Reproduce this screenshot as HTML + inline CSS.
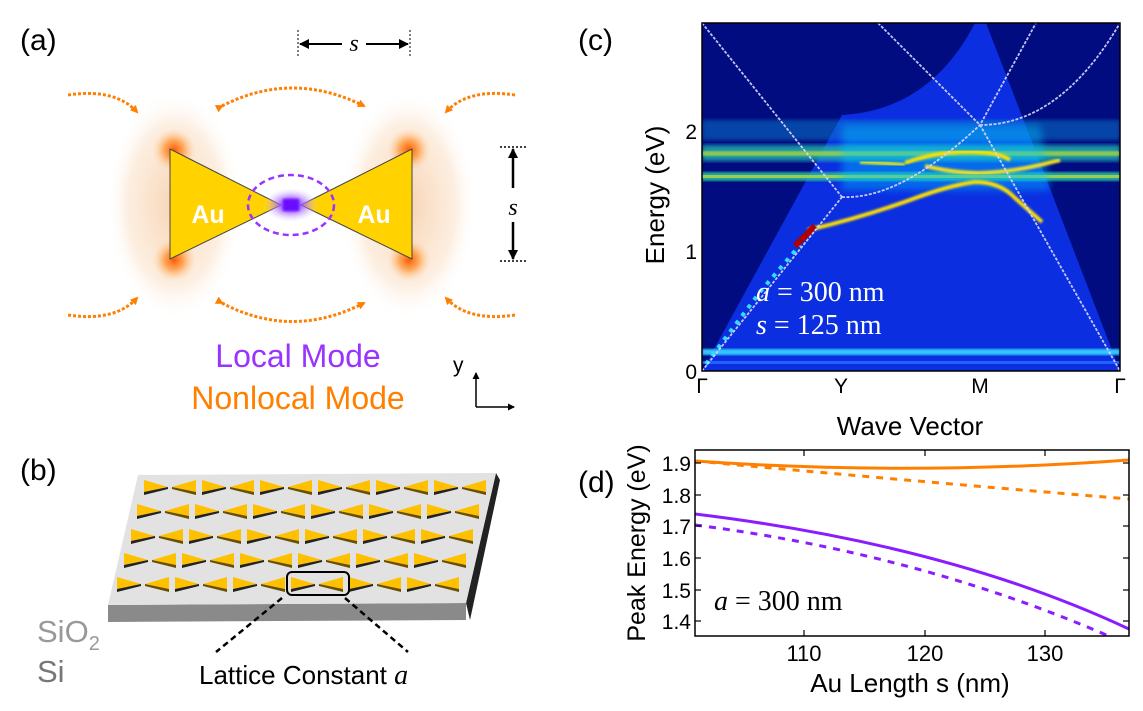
<!DOCTYPE html>
<html><head><meta charset="utf-8"><style>
html,body{margin:0;padding:0;background:#fff;}
svg{display:block;font-family:"Liberation Sans",sans-serif;}
</style></head><body>
<svg width="1143" height="711" viewBox="0 0 1143 711" xmlns="http://www.w3.org/2000/svg">
<defs>
 <radialGradient id="haze" cx="50%" cy="50%" r="50%">
  <stop offset="0" stop-color="#f5c9a0" stop-opacity="0.8"/>
  <stop offset="0.7" stop-color="#fbe3cc" stop-opacity="0.6"/>
  <stop offset="1" stop-color="#fff" stop-opacity="0"/>
 </radialGradient>
 <radialGradient id="hot" cx="50%" cy="50%" r="50%">
  <stop offset="0" stop-color="#ff5a00"/>
  <stop offset="0.45" stop-color="#ff9a40" stop-opacity="0.8"/>
  <stop offset="1" stop-color="#ffd9b0" stop-opacity="0"/>
 </radialGradient>
 <radialGradient id="purp" cx="50%" cy="50%" r="50%">
  <stop offset="0" stop-color="#6a00ff"/>
  <stop offset="0.4" stop-color="#9a55ff" stop-opacity="0.8"/>
  <stop offset="1" stop-color="#e6d5ff" stop-opacity="0"/>
 </radialGradient>
 <marker id="oa" markerWidth="8" markerHeight="8" refX="6" refY="4" orient="auto" markerUnits="userSpaceOnUse"><path d="M0,0 L8,4 L0,8 z" fill="#ff7f00"/></marker>
 <marker id="ka" markerWidth="10" markerHeight="10" refX="9" refY="5" orient="auto" markerUnits="userSpaceOnUse"><path d="M0,0 L10,5 L0,10 z" fill="#000"/></marker>
 <marker id="ks" markerWidth="7" markerHeight="7" refX="6" refY="3.5" orient="auto" markerUnits="userSpaceOnUse"><path d="M0,0 L7,3.5 L0,7 z" fill="#000"/></marker>
 <filter id="b2"><feGaussianBlur stdDeviation="2"/></filter>
 <filter id="b4"><feGaussianBlur stdDeviation="4"/></filter>
 <filter id="b1"><feGaussianBlur stdDeviation="1"/></filter>
 <clipPath id="cc"><rect x="702" y="23" width="418" height="348"/></clipPath>
 <clipPath id="dc"><rect x="695" y="450" width="434" height="186"/></clipPath>
 <g id="p"><polygon points="0,-7 24,0 0,5" fill="#ffc000"/><polygon points="0,5 24,0 24,2 0,8" fill="#222"/><polygon points="52,-7 28,0 52,5" fill="#ffc000"/><polygon points="28,0 52,5 52,8 28,2" fill="#6b4f00"/></g>
</defs>

<!-- Panel a -->
<text x="20" y="50" font-size="30">(a)</text>
<line x1="298" y1="30" x2="298" y2="58" stroke="#000" stroke-dasharray="2,2"/>
<line x1="410" y1="30" x2="410" y2="58" stroke="#000" stroke-dasharray="2,2"/>
<line x1="342" y1="44" x2="300" y2="44" stroke="#000" stroke-width="2" marker-end="url(#ka)"/>
<line x1="366" y1="44" x2="408" y2="44" stroke="#000" stroke-width="2" marker-end="url(#ka)"/>
<text x="354" y="51" font-size="24" font-style="italic" font-family="Liberation Serif,serif" text-anchor="middle">s</text>

<ellipse cx="175" cy="205" rx="68" ry="115" fill="url(#haze)"/>
<ellipse cx="408" cy="205" rx="68" ry="115" fill="url(#haze)"/>
<circle cx="174" cy="150" r="22" fill="url(#hot)"/>
<circle cx="174" cy="260" r="22" fill="url(#hot)"/>
<circle cx="409" cy="150" r="22" fill="url(#hot)"/>
<circle cx="409" cy="260" r="22" fill="url(#hot)"/>
<polygon points="170,149 281,205 170,259" fill="#ffd200" stroke="#444" stroke-width="1" stroke-linejoin="round"/>
<polygon points="412,149 301,205 412,259" fill="#ffd200" stroke="#444" stroke-width="1" stroke-linejoin="round"/>
<ellipse cx="291" cy="205" rx="28" ry="17" fill="url(#purp)"/>
<rect x="283" y="199" width="16" height="12" fill="#6a10ff" filter="url(#b1)"/>
<ellipse cx="291" cy="205" rx="43" ry="30" fill="none" stroke="#9933ff" stroke-width="2.5" stroke-dasharray="6,4"/>
<text x="208" y="223" font-size="25" font-weight="bold" fill="#fff" text-anchor="middle">Au</text>
<text x="374" y="223" font-size="25" font-weight="bold" fill="#fff" text-anchor="middle">Au</text>

<g fill="none" stroke="#ff7f00" stroke-width="3" stroke-dasharray="3,2">
 <path d="M68,95 Q115,88 137,112" marker-end="url(#oa)"/>
 <path d="M515,95 Q468,88 446,112" marker-end="url(#oa)"/>
 <path d="M68,315 Q115,322 137,298" marker-end="url(#oa)"/>
 <path d="M515,315 Q468,322 446,298" marker-end="url(#oa)"/>
 <path d="M222,106 Q292,70 364,106" marker-end="url(#oa)" marker-start="url(#oa)"/>
 <path d="M222,303 Q292,340 364,303" marker-end="url(#oa)" marker-start="url(#oa)"/>
</g>

<line x1="500" y1="147" x2="528" y2="147" stroke="#000" stroke-dasharray="2,2" stroke-width="1.5"/>
<line x1="500" y1="261" x2="528" y2="261" stroke="#000" stroke-dasharray="2,2" stroke-width="1.5"/>
<line x1="513" y1="188" x2="513" y2="149" stroke="#000" stroke-width="2.5" marker-end="url(#ka)"/>
<line x1="513" y1="222" x2="513" y2="259" stroke="#000" stroke-width="2.5" marker-end="url(#ka)"/>
<text x="513" y="215" font-size="24" font-style="italic" font-family="Liberation Serif,serif" text-anchor="middle">s</text>

<text x="298" y="367" font-size="32" fill="#9933ff" text-anchor="middle">Local Mode</text>
<text x="298" y="409" font-size="32" fill="#ff7f00" text-anchor="middle">Nonlocal Mode</text>
<text x="453" y="372" font-size="21">y</text>
<line x1="476" y1="407" x2="476" y2="373" stroke="#000" stroke-width="1.5" marker-end="url(#ks)"/>
<line x1="476" y1="407" x2="514" y2="407" stroke="#000" stroke-width="1.5" marker-end="url(#ks)"/>

<!-- Panel b -->
<text x="20" y="480" font-size="30">(b)</text>
<polygon points="496,473 500,480 470,620 466,603" fill="#222"/>
<polygon points="108,605 466,603 466,620 108,622" fill="#8a8a8a"/>
<polygon points="138,475 496,473 466,603 108,605" fill="#e2e2e2"/>
<g transform="translate(144,487)"><use href="#p"/><use href="#p" x="58"/><use href="#p" x="116"/><use href="#p" x="174"/><use href="#p" x="232"/><use href="#p" x="290"/></g>
<g transform="translate(137,511)"><use href="#p"/><use href="#p" x="58"/><use href="#p" x="116"/><use href="#p" x="174"/><use href="#p" x="232"/><use href="#p" x="290"/></g>
<g transform="translate(131,536)"><use href="#p"/><use href="#p" x="58"/><use href="#p" x="116"/><use href="#p" x="174"/><use href="#p" x="232"/><use href="#p" x="290"/></g>
<g transform="translate(124,560)"><use href="#p"/><use href="#p" x="58"/><use href="#p" x="116"/><use href="#p" x="174"/><use href="#p" x="232"/><use href="#p" x="290"/></g>
<g transform="translate(117,584)"><use href="#p"/><use href="#p" x="58"/><use href="#p" x="116"/><use href="#p" x="174"/><use href="#p" x="232"/><use href="#p" x="290"/></g>
<rect x="287" y="572" width="62" height="23" rx="5" fill="none" stroke="#000" stroke-width="2"/>
<line x1="282" y1="598" x2="216" y2="652" stroke="#000" stroke-width="2.5" stroke-dasharray="6,4"/>
<line x1="345" y1="598" x2="408" y2="652" stroke="#000" stroke-width="2.5" stroke-dasharray="6,4"/>
<text x="199" y="684" font-size="26">Lattice Constant <tspan font-family="Liberation Serif,serif" font-style="italic" font-size="28">a</tspan></text>
<text x="37" y="642" font-size="31" fill="#999">SiO<tspan font-size="20" dy="8">2</tspan></text>
<text x="37" y="682" font-size="31" fill="#777">Si</text>

<!-- Panel c -->
<text x="578" y="50" font-size="30">(c)</text>
<g clip-path="url(#cc)">
 <rect x="702" y="23" width="418" height="348" fill="#000c80"/>
 <path d="M702,371 L842,115 Q930,110 975,23 L986,23 L1046,178 L1120,371 Z" fill="#0a2ee0"/>
 <rect x="702" y="120" width="418" height="20" fill="#0b7fd0" opacity="0.5" filter="url(#b2)"/>
 <rect x="702" y="145" width="418" height="16" fill="#20b8b0" opacity="0.8" filter="url(#b2)"/>
 <rect x="702" y="151" width="418" height="5" fill="#a8d840" opacity="0.8" filter="url(#b1)"/>
 <rect x="702" y="172" width="418" height="9" fill="#28c0a0" opacity="0.85" filter="url(#b1)"/>
 <rect x="702" y="175" width="418" height="3" fill="#b8d840" opacity="0.8"/>
 <path d="M842,125 L1040,125 L1050,190 L842,190 Z" fill="#00c8ff" opacity="0.4" filter="url(#b4)"/>
 <rect x="702" y="349" width="418" height="6" fill="#30c8ff" filter="url(#b1)"/>
 <rect x="702" y="361" width="418" height="3" fill="#1f60ff"/>
 <g fill="none">
  <path d="M706,364 L760,292 L800,245" stroke="#30e0ff" stroke-width="4" stroke-dasharray="4,6"/>
  <path d="M808,230 Q860,218 910,200 Q950,185 975,182 Q1000,182 1015,198 L1042,222" stroke="#ffe000" stroke-width="4" filter="url(#b1)"/>
  <path d="M795,246 L815,226" stroke="#b00000" stroke-width="6"/>
  <path d="M905,163 Q940,150 978,152 Q1000,153 1010,160" stroke="#ffe000" stroke-width="4" filter="url(#b1)"/>
  <path d="M925,166 Q955,173 980,173 Q1010,172 1040,165 L1060,160" stroke="#f0e020" stroke-width="4" filter="url(#b1)"/>
  <path d="M860,162 Q885,163 905,165" stroke="#d0e030" stroke-width="4" filter="url(#b1)"/>
 </g>
 <g fill="none" stroke="#d8d8ff" stroke-width="1.8" stroke-dasharray="3,1.5" opacity="0.9">
  <path d="M702,23 L842,197"/>
  <path d="M702,371 L842,197"/>
  <path d="M842,197 Q900,200 980,125 L1036,23"/>
  <path d="M878,23 L980,125 L1120,371"/>
  <path d="M980,125 Q1060,125 1120,23"/>
 </g>
</g>
<rect x="702" y="23" width="418" height="348" fill="none" stroke="#000" stroke-width="1.5"/>
<text x="756" y="301" font-size="28" fill="#fff" font-family="Liberation Serif,serif"><tspan font-style="italic">a</tspan> = 300 nm</text>
<text x="756" y="334" font-size="28" fill="#fff" font-family="Liberation Serif,serif"><tspan font-style="italic">s</tspan> = 125 nm</text>
<g font-size="21" text-anchor="end"><text x="697" y="379">0</text><text x="697" y="259">1</text><text x="697" y="139">2</text></g>
<g font-size="21" text-anchor="middle"><text x="702" y="393">Γ</text><text x="841" y="393">Y</text><text x="980" y="393">M</text><text x="1120" y="393">Γ</text></g>
<text x="910" y="435" font-size="26" text-anchor="middle">Wave Vector</text>
<text transform="translate(664,195) rotate(-90)" font-size="26" text-anchor="middle">Energy (eV)</text>

<!-- Panel d -->
<text x="578" y="492" font-size="30">(d)</text>
<g clip-path="url(#dc)" fill="none" stroke-width="3">
 <path d="M695,461 Q910,476 1129,460" stroke="#ff8000"/>
 <path d="M695,461 Q900,480 1129,499" stroke="#ff8000" stroke-dasharray="7,7"/>
 <path d="M695,514 Q950,545 1129,629" stroke="#8a1cff"/>
 <path d="M695,525 Q930,555 1129,645" stroke="#8a1cff" stroke-dasharray="7,7"/>
</g>
<rect x="695" y="450" width="434" height="186" fill="none" stroke="#000" stroke-width="1.5"/>
<g stroke="#000" stroke-width="1.2">
 <line x1="695" y1="463" x2="701" y2="463"/><line x1="695" y1="495" x2="701" y2="495"/><line x1="695" y1="526" x2="701" y2="526"/><line x1="695" y1="558" x2="701" y2="558"/><line x1="695" y1="590" x2="701" y2="590"/><line x1="695" y1="621" x2="701" y2="621"/>
 <line x1="1123" y1="463" x2="1129" y2="463"/><line x1="1123" y1="495" x2="1129" y2="495"/><line x1="1123" y1="526" x2="1129" y2="526"/><line x1="1123" y1="558" x2="1129" y2="558"/><line x1="1123" y1="590" x2="1129" y2="590"/><line x1="1123" y1="621" x2="1129" y2="621"/>
 <line x1="804" y1="636" x2="804" y2="630"/><line x1="925" y1="636" x2="925" y2="630"/><line x1="1045" y1="636" x2="1045" y2="630"/>
 <line x1="804" y1="450" x2="804" y2="456"/><line x1="925" y1="450" x2="925" y2="456"/><line x1="1045" y1="450" x2="1045" y2="456"/>
</g>
<g font-size="21" text-anchor="end"><text x="691" y="471">1.9</text><text x="691" y="503">1.8</text><text x="691" y="534">1.7</text><text x="691" y="566">1.6</text><text x="691" y="598">1.5</text><text x="691" y="629">1.4</text></g>
<g font-size="22" text-anchor="middle"><text x="804" y="661">110</text><text x="925" y="661">120</text><text x="1045" y="661">130</text></g>
<text x="910" y="692" font-size="26" text-anchor="middle">Au Length s (nm)</text>
<text transform="translate(645,543) rotate(-90)" font-size="25" text-anchor="middle">Peak Energy (eV)</text>
<text x="714" y="610" font-size="28" font-family="Liberation Serif,serif"><tspan font-style="italic">a</tspan> = 300 nm</text>
</svg>
</body></html>
